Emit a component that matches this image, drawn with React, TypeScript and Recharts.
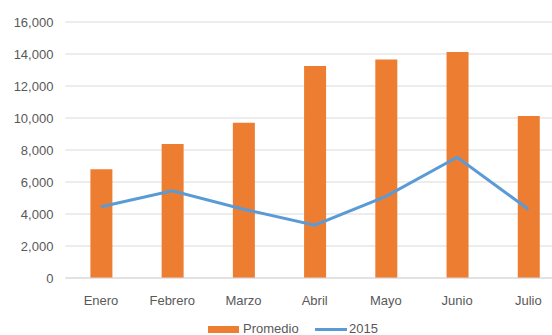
import React from "react";
import { ComposedChart, Bar, Line, XAxis, YAxis, CartesianGrid, Legend } from "recharts";

const months = ["Enero", "Febrero", "Marzo", "Abril", "Mayo", "Junio", "Julio"];
const promedio = [6800, 8380, 9700, 13250, 13650, 14125, 10120];
const y2015 = [4450, 5450, 4300, 3300, 5100, 7550, 4300];
const yTicks = [0, 2000, 4000, 6000, 8000, 10000, 12000, 14000, 16000];

const data = months.map((m, i) => ({ month: m, promedio: promedio[i], y2015: y2015[i] }));

const FONT = "'Liberation Sans', Arial, sans-serif";
const TEXT = "#595959";
const ORANGE = "#ED7D31";
const BLUE = "#5B9BD5";

const LegendContent = () => (
  <div style={{ position: "relative", height: 22, width: "100%", fontFamily: FONT, fontSize: 13, color: TEXT }}>
    <div style={{ position: "absolute", left: 208, top: 18, width: 31, height: 7, background: ORANGE }} />
    <div style={{ position: "absolute", left: 243, top: 13, lineHeight: "16px" }}>Promedio</div>
    <div style={{ position: "absolute", left: 315, top: 20, width: 32, height: 3, background: BLUE }} />
    <div style={{ position: "absolute", left: 349, top: 13, lineHeight: "16px" }}>2015</div>
  </div>
);

export default function App() {
  return (
    <div style={{ position: "absolute", left: 0, top: 0, width: 552, height: 335, overflow: "hidden", background: "#fff" }}>
      <ComposedChart
        width={570}
        height={335}
        data={data}
        margin={{ top: 22, right: 6, bottom: 5, left: 0 }}
        barCategoryGap={24}
      >
        <CartesianGrid vertical={false} stroke="#D9D9D9" strokeWidth={1} />
        <XAxis
          dataKey="month"
          tickLine={false}
          axisLine={{ stroke: "#D9D9D9" }}
          tick={{ fill: TEXT, fontSize: 13, fontFamily: FONT }}
          tickMargin={12}
          height={30}
          interval={0}
        />
        <YAxis
          domain={[0, 16000]}
          ticks={yTicks}
          width={65.4}
          axisLine={false}
          tickLine={false}
          tickSize={0}
          tickMargin={12}
          tick={{ fill: TEXT, fontSize: 13, fontFamily: FONT }}
          tickFormatter={(v: number) => v.toLocaleString("en-US")}
        />
        <Legend verticalAlign="bottom" content={<LegendContent />} wrapperStyle={{ height: 22 }} />
        <Bar dataKey="promedio" name="Promedio" fill={ORANGE} barSize={22} isAnimationActive={false} />
        <Line
          dataKey="y2015"
          name="2015"
          stroke={BLUE}
          strokeWidth={3}
          dot={false}
          type="linear"
          isAnimationActive={false}
        />
      </ComposedChart>
    </div>
  );
}
